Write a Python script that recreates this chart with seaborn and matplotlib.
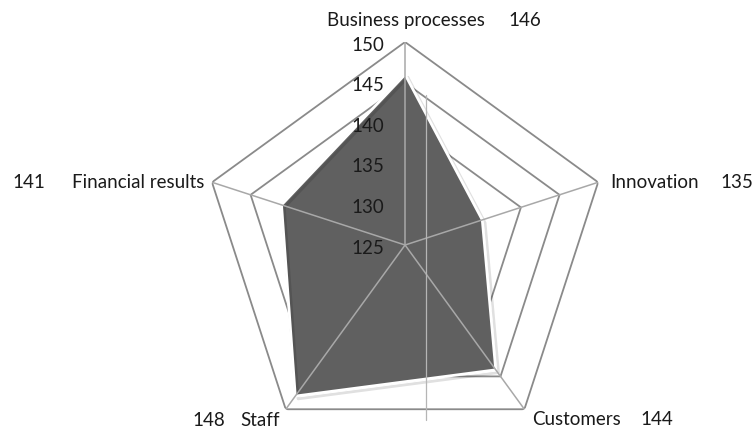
import numpy as np
import matplotlib
matplotlib.use("Agg")
import matplotlib.pyplot as plt
import matplotlib.patheffects as pe
from matplotlib.lines import Line2D
import seaborn as sns

# radar data
categories = ["Business processes", "Innovation", "Customers", "Staff", "Financial results"]
values = [146, 135, 144, 148, 141]
r_ticks = [125, 130, 135, 140, 145, 150]

sns.set_style("white")
plt.rcParams['font.family'] = ['Lato', 'DejaVu Sans']

fig = plt.figure(figsize=(7.52, 4.30), dpi=100)
ax = fig.add_axes([0.2687, -0.0419, 0.5399, 0.9442], projection="polar")
ax.set_theta_offset(np.pi / 2)
ax.set_theta_direction(-1)
ax.set_ylim(r_ticks[0], r_ticks[-1])
ax.grid(False)
ax.spines["polar"].set_visible(False)
ax.set_xticks([])
ax.set_yticks([])
ax.patch.set_alpha(0)

n = len(categories)
angles = np.linspace(0, 2 * np.pi, n, endpoint=False)
closed = np.append(angles, angles[0])

# polygon grid (under the fill)
for lvl in r_ticks[1:]:
    ax.plot(closed, [lvl] * (n + 1), color="#8a8a8a", lw=1.3, zorder=1)

# filled series
vals = values + values[:1]
ax.fill(closed, vals, color="#606060", zorder=2)
ax.plot(closed, vals, color="white", lw=2, zorder=3,
        path_effects=[pe.SimpleLineShadow(offset=(2, -2), shadow_color="#000000", alpha=0.12),
                      pe.Normal()])

# spokes over the fill
for a in angles:
    ax.plot([a, a], [r_ticks[0], r_ticks[-1]], color="#a8a8a8", lw=1.1, zorder=4)

# radial tick labels
for t in r_ticks:
    ax.annotate(str(t), xy=(0, t), xytext=(-21, -3), textcoords="offset pixels",
                ha="right", va="center", fontsize=13.5, color="#1a1a1a", zorder=5)

# category labels with values
txt = dict(fontsize=13.5, color="#1a1a1a", va="center")
layout = [
    # (label offset, label ha, value offset, value ha)
    ((1, 22), "center", (120, 22), "center"),
    ((12, 0), "left", (122, 0), "left"),
    ((8, -10), "left", (116, -10), "left"),
    ((-6, -11), "right", (-61, -11), "right"),
    ((-8, 0), "right", (-167, 0), "right"),
]
for a, lab, v, (lo, lha, vo, vha) in zip(angles, categories, values, layout):
    ax.annotate(lab, xy=(a, r_ticks[-1]), xytext=lo, textcoords="offset pixels", ha=lha, **txt)
    ax.annotate(str(v), xy=(a, r_ticks[-1]), xytext=vo, textcoords="offset pixels", ha=vha, **txt)

# faint vertical scan line seen in the original
fig.add_artist(Line2D([426 / 752, 426 / 752], [1 - 95 / 430, 1 - 420 / 430],
                      color="#b5b5b5", lw=0.9, zorder=6))

fig.savefig("out.png", dpi=100)
